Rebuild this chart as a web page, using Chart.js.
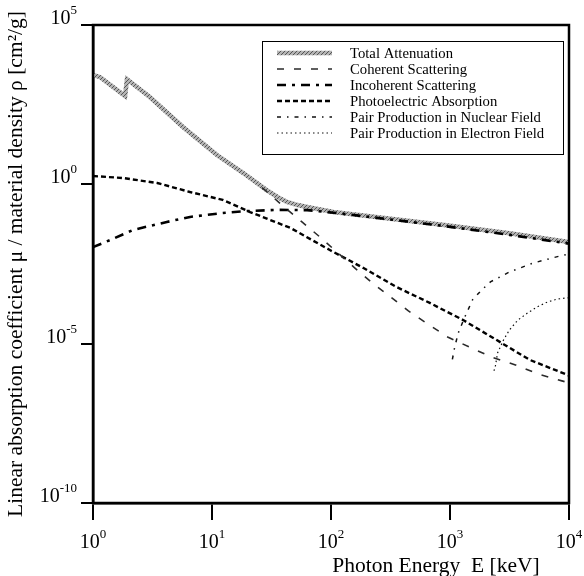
<!DOCTYPE html>
<html>
<head>
<meta charset="utf-8">
<script src="https://cdn.jsdelivr.net/npm/chart.js@4.4.1/dist/chart.umd.min.js"></script>
<style>
  html, body { margin: 0; padding: 0; background: #fff; }
  #wrap { width: 584px; height: 576px; }
</style>
</head>
<body>
<div id="wrap"><canvas id="attenuationChart" width="584" height="576"></canvas></div>
<script>
// Photon energy [keV] / mass attenuation [cm²/g]
const totalE  = [1, 1.15, 1.86, 1.93, 3.0, 5.7, 11, 18.2, 28.8, 35.5, 42.7, 52.5, 63, 79, 105, 316, 933, 3160, 10000];
const totalMu = [2.7e3, 2.3e3, 5.9e2, 2.0e3, 5.5e2, 63, 8.3, 2.3, 0.66, 0.40, 0.28, 0.224, 0.195, 0.166, 0.135, 0.083, 0.052, 0.029, 0.0155];

const coherentE  = [26.3, 28.4, 40.3, 57, 82.4, 158, 224, 316, 447, 646, 955, 1445, 2240, 3550, 5500, 8710, 10000];
const coherentMu = [0.79, 0.62, 0.195, 0.066, 0.0209, 2.4e-3, 7.9e-4, 2.95e-4, 1.07e-4, 4.2e-5, 1.62e-5, 7.9e-6, 3.8e-6, 2.14e-6, 1.12e-6, 6.8e-7, 5.9e-7];

const incoherentE  = [1, 1.39, 2.17, 4.17, 6.53, 12.3, 19.5, 35.5, 63, 105, 316, 933, 3160, 10000];
const incoherentMu = [0.0107, 0.0178, 0.037, 0.066, 0.095, 0.126, 0.145, 0.158, 0.155, 0.129, 0.079, 0.048, 0.026, 0.0138];

const photoE  = [1, 1.78, 3.47, 6.53, 12.3, 20.9, 45.7, 97.7, 186, 355, 676, 1290, 2450, 4680, 10000];
const photoMu = [1.82, 1.58, 1.10, 0.575, 0.324, 0.135, 0.0427, 8.7e-3, 2.4e-3, 6.0e-4, 1.9e-4, 5.5e-5, 1.32e-5, 3.1e-6, 1.0e-6];

const nuclearE  = [1047, 1096, 1175, 1318, 1549, 1862, 2188, 3162, 5012, 8318, 10000];
const nuclearMu = [3.2e-6, 7.9e-6, 2.2e-5, 6.3e-5, 2.4e-4, 5.0e-4, 8.7e-4, 1.78e-3, 3.4e-3, 5.6e-3, 6.5e-3];

const electronE  = [2340, 2400, 2510, 2820, 3160, 3720, 4470, 5370, 6610, 7940, 9330, 10000];
const electronMu = [1.41e-6, 1.86e-6, 5.1e-6, 1.32e-5, 2.7e-5, 5.5e-5, 9.1e-5, 1.41e-4, 2.04e-4, 2.5e-4, 2.7e-4, 2.75e-4];

const seriesNames = [
    "Total Attenuation",
    "Coherent Scattering",
    "Incoherent Scattering",
    "Photoelectric Absorption",
    "Pair Production in Nuclear Field",
    "Pair Production in Electron Field"
];

// axis ticks (decades)
const xTicks = [1, 10, 100, 1000, 10000];
const yTicks = [1e-10, 1e-5, 1, 1e5];

const SERIF = '"Liberation Serif", "Times New Roman", serif';

function toPoints(xs, ys) {
    return xs.map((x, i) => ({ x: x, y: ys[i] }));
}

// grey hatched texture for the total curve
function hatchPattern() {
    const c = document.createElement("canvas");
    c.width = 4; c.height = 4;
    const g = c.getContext("2d");
    g.fillStyle = "#b4b4b4";
    g.fillRect(0, 0, 4, 4);
    g.fillStyle = "#555";
    for (let i = 0; i < 4; i++) g.fillRect(i, 3 - i, 1, 1);
    return g.createPattern(c, "repeat");
}

// 10^n label with a raised exponent
function drawPower(ctx, px, baseline, exp, align) {
    const base = "10", sup = String(exp);
    ctx.font = "20px " + SERIF;
    const w1 = ctx.measureText(base).width;
    ctx.font = "13px " + SERIF;
    const w2 = ctx.measureText(sup).width;
    const start = align === "center" ? px - (w1 + w2) / 2 : px - (w1 + w2);
    ctx.textAlign = "left";
    ctx.textBaseline = "alphabetic";
    ctx.font = "20px " + SERIF;
    ctx.fillText(base, start, baseline);
    ctx.font = "13px " + SERIF;
    ctx.fillText(sup, start + w1, baseline - 10);
}

const decorations = {
    id: "decorations",
    afterDraw(chart) {
        const { ctx, chartArea: a, scales } = chart;
        ctx.save();
        ctx.fillStyle = "#000";

        // frame on top and right
        ctx.strokeStyle = "#000";
        ctx.lineWidth = 2.5;
        ctx.strokeRect(a.left, a.top, a.right - a.left, a.bottom - a.top);

        xTicks.forEach(v => drawPower(ctx, scales.x.getPixelForValue(v), 548, Math.round(Math.log10(v)), "center"));
        yTicks.forEach(v => drawPower(ctx, 77, scales.y.getPixelForValue(v) - 1, Math.round(Math.log10(v)), "right"));

        // x axis title
        ctx.font = "21.5px " + SERIF;
        ctx.textAlign = "center";
        ctx.textBaseline = "alphabetic";
        ctx.fillText("Photon Energy  E [keV]", 436, 572);

        // legend box
        const bx = 262, by = 41, bw = 301, bh = 113;
        ctx.fillStyle = "#fff";
        ctx.fillRect(bx, by, bw, bh);
        ctx.lineWidth = 1;
        ctx.strokeStyle = "#000";
        ctx.strokeRect(bx + 0.5, by + 0.5, bw, bh);
        ctx.font = "14.7px " + SERIF;
        ctx.textBaseline = "middle";
        ctx.textAlign = "left";
        chart.data.datasets.forEach((ds, i) => {
            const ry = 53 + i * 16;
            ctx.save();
            ctx.strokeStyle = ds.borderColor;
            ctx.lineWidth = ds.borderWidth;
            ctx.setLineDash(ds.borderDash || []);
            ctx.beginPath();
            ctx.moveTo(277, ry);
            ctx.lineTo(332, ry);
            ctx.stroke();
            ctx.restore();
            ctx.fillStyle = "#000";
            ctx.fillText(ds.label, 350, ry + 1);
        });
        ctx.restore();
    }
};

document.addEventListener("DOMContentLoaded", function () {
    const ctx = document.getElementById("attenuationChart").getContext("2d");

    new Chart(ctx, {
        type: "line",
        data: {
            datasets: [
                { label: seriesNames[0], data: toPoints(totalE, totalMu), borderColor: hatchPattern(), borderWidth: 4.5, order: 10 },
                { label: seriesNames[1], data: toPoints(coherentE, coherentMu), borderColor: "#2a2a2a", borderWidth: 1.6, borderDash: [7, 10] },
                { label: seriesNames[2], data: toPoints(incoherentE, incoherentMu), borderColor: "#000", borderWidth: 2.6, borderDash: [9, 6, 3, 6] },
                { label: seriesNames[3], data: toPoints(photoE, photoMu), borderColor: "#000", borderWidth: 2.4, borderDash: [5, 3] },
                { label: seriesNames[4], data: toPoints(nuclearE, nuclearMu), borderColor: "#111", borderWidth: 1.5, borderDash: [4, 6, 1.5, 6] },
                { label: seriesNames[5], data: toPoints(electronE, electronMu), borderColor: "#111", borderWidth: 1.2, borderDash: [1.5, 3] }
            ]
        },
        options: {
            responsive: false,
            animation: false,
            events: [],
            devicePixelRatio: 1,
            elements: {
                point: { radius: 0 },
                line: { tension: 0, fill: false }
            },
            layout: { padding: { top: 25, right: 15, left: 0, bottom: 0 } },
            plugins: {
                legend: { display: false },
                tooltip: { enabled: false }
            },
            scales: {
                x: {
                    type: "logarithmic",
                    min: 1,
                    max: 10000,
                    afterBuildTicks: s => { s.ticks = xTicks.map(v => ({ value: v })); },
                    afterFit: s => { s.height = 73; },
                    ticks: { display: false },
                    grid: { drawOnChartArea: false, drawTicks: true, tickLength: 17, color: "#000", lineWidth: 2 },
                    border: { display: true, color: "#000", width: 2.5 }
                },
                y: {
                    type: "logarithmic",
                    min: 1e-10,
                    max: 1e5,
                    afterBuildTicks: s => { s.ticks = yTicks.map(v => ({ value: v })); },
                    afterFit: s => { s.width = 93; },
                    ticks: { display: false },
                    grid: { drawOnChartArea: false, drawTicks: true, tickLength: 12, color: "#000", lineWidth: 2 },
                    border: { display: true, color: "#000", width: 2.5 },
                    title: {
                        display: true,
                        text: "Linear absorption coefficient \u03bc / material density \u03c1 [cm\u00b2/g]",
                        font: { family: SERIF, size: 21.5 },
                        color: "#000",
                        padding: { top: 3, bottom: 0 }
                    }
                }
            }
        },
        plugins: [decorations]
    });
});
</script>
</body>
</html>
